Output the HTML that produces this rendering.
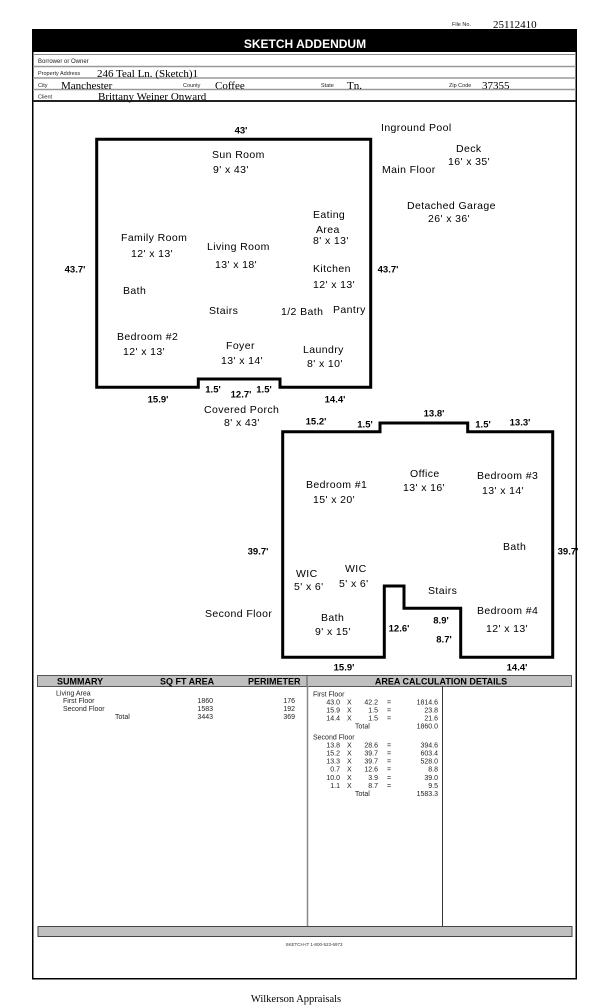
<!DOCTYPE html>
<html>
<head>
<meta charset="utf-8">
<style>
html,body{margin:0;padding:0;background:#fff;}
svg{display:block;}
.r{font-family:"Liberation Sans",Arial,sans-serif;font-size:10.5px;letter-spacing:0.4px;fill:#000;}
.d{font-family:"Liberation Sans",Arial,sans-serif;font-size:9.5px;font-weight:bold;fill:#000;text-anchor:middle;}
.s{font-family:"Liberation Sans",Arial,sans-serif;font-size:6px;fill:#222;}
.t{font-family:"Liberation Serif","Times New Roman",serif;font-size:11px;fill:#000;}
.sm{font-family:"Liberation Sans",Arial,sans-serif;font-size:7px;fill:#222;}
.smr{font-family:"Liberation Sans",Arial,sans-serif;font-size:7px;fill:#222;text-anchor:end;}
.hb{font-family:"Liberation Sans",Arial,sans-serif;font-size:9px;font-weight:bold;fill:#000;}
</style>
</head>
<body>
<svg width="612" height="1008" viewBox="0 0 612 1008" xmlns="http://www.w3.org/2000/svg">
<rect x="0" y="0" width="612" height="1008" fill="#fff"/>

<!-- File No -->
<text class="s" x="452" y="26" style="font-size:5.5px">File No.</text>
<text class="t" x="493" y="28">25112410</text>

<!-- outer box -->
<rect x="32.75" y="29.75" width="543.5" height="949" fill="none" stroke="#000" stroke-width="1.5"/>
<rect x="32" y="29" width="545" height="23" fill="#000"/>
<text x="305" y="48" fill="#fff" text-anchor="middle" style="font-family:'Liberation Sans',Arial,sans-serif;font-size:12px;font-weight:bold;">SKETCH ADDENDUM</text>

<!-- header rows -->
<line x1="33" y1="54.5" x2="576" y2="54.5" stroke="#888" stroke-width="1"/>
<line x1="33" y1="66.5" x2="576" y2="66.5" stroke="#999" stroke-width="1.5"/>
<line x1="33" y1="78" x2="576" y2="78" stroke="#999" stroke-width="1.5"/>
<line x1="33" y1="89.5" x2="576" y2="89.5" stroke="#999" stroke-width="1.5"/>
<line x1="33" y1="101" x2="576" y2="101" stroke="#222" stroke-width="2"/>

<text class="s" x="38" y="63">Borrower or Owner</text>
<text class="s" x="38" y="75" style="font-size:5.5px">Property Address</text>
<text class="t" x="97" y="77">246 Teal Ln. (Sketch)1</text>
<text class="s" x="38" y="87" style="font-size:5.5px">City</text>
<text class="t" x="61" y="89">Manchester</text>
<text class="s" x="183" y="87" style="font-size:5.5px">County</text>
<text class="t" x="215" y="89">Coffee</text>
<text class="s" x="321" y="87" style="font-size:5.5px">State</text>
<text class="t" x="347" y="89">Tn.</text>
<text class="s" x="449" y="87" style="font-size:5.5px">Zip Code</text>
<text class="t" x="482" y="89">37355</text>
<text class="s" x="38" y="98.5" style="font-size:5.5px">Client</text>
<text class="t" x="98" y="100">Brittany Weiner  Onward</text>

<!-- First floor -->
<path d="M96.7,139.3 H370.7 V387.3 H280 V379 H198.3 V387.3 H96.7 Z" fill="none" stroke="#000" stroke-width="3" stroke-linejoin="miter"/>

<!-- Second floor -->
<path d="M282.7,431.7 H380 V423 H467.7 V431.7 H552.7 V657.3 H460.7 V608.3 H404 V586 H384.3 V657.3 H282.7 Z" fill="none" stroke="#000" stroke-width="3" stroke-linejoin="miter"/>

<!-- room labels -->
<text class="r" x="212" y="158">Sun Room</text>
<text class="r" x="213" y="173">9' x 43'</text>
<text class="r" x="121" y="241">Family Room</text>
<text class="r" x="131" y="257">12' x 13'</text>
<text class="r" x="207" y="250">Living Room</text>
<text class="r" x="215" y="268">13' x 18'</text>
<text class="r" x="313" y="218">Eating</text>
<text class="r" x="316" y="233">Area</text>
<text class="r" x="313" y="244">8' x 13'</text>
<text class="r" x="313" y="272">Kitchen</text>
<text class="r" x="313" y="288">12' x 13'</text>
<text class="r" x="123" y="294">Bath</text>
<text class="r" x="209" y="314">Stairs</text>
<text class="r" x="281" y="315">1/2 Bath</text>
<text class="r" x="333" y="313">Pantry</text>
<text class="r" x="117" y="340">Bedroom #2</text>
<text class="r" x="123" y="355">12' x 13'</text>
<text class="r" x="226" y="349">Foyer</text>
<text class="r" x="221" y="364">13' x 14'</text>
<text class="r" x="303" y="353">Laundry</text>
<text class="r" x="307" y="367">8' x 10'</text>
<text class="r" x="204" y="413">Covered Porch</text>
<text class="r" x="224" y="426">8' x 43'</text>
<text class="r" x="381" y="131">Inground Pool</text>
<text class="r" x="456" y="152">Deck</text>
<text class="r" x="448" y="165">16' x 35'</text>
<text class="r" x="382" y="173">Main Floor</text>
<text class="r" x="407" y="209">Detached Garage</text>
<text class="r" x="428" y="222">26' x 36'</text>

<text class="r" x="306" y="488">Bedroom #1</text>
<text class="r" x="313" y="503">15' x 20'</text>
<text class="r" x="296" y="577">WIC</text>
<text class="r" x="294" y="590">5' x 6'</text>
<text class="r" x="345" y="572">WIC</text>
<text class="r" x="339" y="587">5' x 6'</text>
<text class="r" x="205" y="617">Second Floor</text>
<text class="r" x="321" y="621">Bath</text>
<text class="r" x="315" y="635">9' x 15'</text>
<text class="r" x="410" y="477">Office</text>
<text class="r" x="403" y="491">13' x 16'</text>
<text class="r" x="477" y="479">Bedroom #3</text>
<text class="r" x="482" y="494">13' x 14'</text>
<text class="r" x="503" y="550">Bath</text>
<text class="r" x="428" y="594">Stairs</text>
<text class="r" x="477" y="614">Bedroom #4</text>
<text class="r" x="486" y="632">12' x 13'</text>

<!-- dimension labels -->
<text class="d" x="241" y="133.5">43'</text>
<text class="d" x="75" y="272.5">43.7'</text>
<text class="d" x="388" y="272.5">43.7'</text>
<text class="d" x="158" y="402.5">15.9'</text>
<text class="d" x="213" y="392.5">1.5'</text>
<text class="d" x="241" y="397.5">12.7'</text>
<text class="d" x="264" y="392.5">1.5'</text>
<text class="d" x="335" y="402.5">14.4'</text>
<text class="d" x="316" y="424.5">15.2'</text>
<text class="d" x="365" y="427.5">1.5'</text>
<text class="d" x="434" y="416.5">13.8'</text>
<text class="d" x="483" y="427.5">1.5'</text>
<text class="d" x="520" y="425.5">13.3'</text>
<text class="d" x="258" y="554.5">39.7'</text>
<text class="d" x="568" y="554.5">39.7'</text>
<text class="d" x="399" y="631.5">12.6'</text>
<text class="d" x="441" y="623.5">8.9'</text>
<text class="d" x="444" y="642.5">8.7'</text>
<text class="d" x="344" y="670.5">15.9'</text>
<text class="d" x="517" y="670.5">14.4'</text>

<!-- summary header -->
<rect x="37.5" y="675.5" width="534" height="11" fill="#c0c0c0" stroke="#555" stroke-width="1"/>
<line x1="307" y1="676" x2="307" y2="686" stroke="#555" stroke-width="1"/>
<text class="hb" x="57" y="684.5">SUMMARY</text>
<text class="hb" x="160" y="684.5">SQ FT AREA</text>
<text class="hb" x="248" y="684.5">PERIMETER</text>
<text class="hb" x="441" y="684.5" text-anchor="middle">AREA CALCULATION DETAILS</text>

<line x1="307.5" y1="686" x2="307.5" y2="926" stroke="#888" stroke-width="1.5"/>
<line x1="442.5" y1="686" x2="442.5" y2="926" stroke="#333" stroke-width="1"/>

<!-- summary body -->
<text class="sm" x="56" y="695.5">Living Area</text>
<text class="sm" x="63" y="703">First Floor</text>
<text class="smr" x="213" y="703">1860</text>
<text class="smr" x="295" y="703">176</text>
<text class="sm" x="63" y="711">Second Floor</text>
<text class="smr" x="213" y="711">1583</text>
<text class="smr" x="295" y="711">192</text>
<text class="sm" x="115" y="719">Total</text>
<text class="smr" x="213" y="719">3443</text>
<text class="smr" x="295" y="719">369</text>

<!-- area calc -->
<text class="sm" x="313" y="696.5">First Floor</text>
<g>
<text class="smr" x="340" y="704.5">43.0</text><text class="sm" x="347" y="704.5">X</text><text class="smr" x="378" y="704.5">42.2</text><text class="sm" x="387" y="704.5">=</text><text class="smr" x="438" y="704.5">1814.6</text>
<text class="smr" x="340" y="712.5">15.9</text><text class="sm" x="347" y="712.5">X</text><text class="smr" x="378" y="712.5">1.5</text><text class="sm" x="387" y="712.5">=</text><text class="smr" x="438" y="712.5">23.8</text>
<text class="smr" x="340" y="720.5">14.4</text><text class="sm" x="347" y="720.5">X</text><text class="smr" x="378" y="720.5">1.5</text><text class="sm" x="387" y="720.5">=</text><text class="smr" x="438" y="720.5">21.6</text>
<text class="sm" x="355" y="728.5">Total</text><text class="smr" x="438" y="728.5">1860.0</text>
</g>
<text class="sm" x="313" y="739.5">Second Floor</text>
<g>
<text class="smr" x="340" y="747.5">13.8</text><text class="sm" x="347" y="747.5">X</text><text class="smr" x="378" y="747.5">28.6</text><text class="sm" x="387" y="747.5">=</text><text class="smr" x="438" y="747.5">394.6</text>
<text class="smr" x="340" y="755.5">15.2</text><text class="sm" x="347" y="755.5">X</text><text class="smr" x="378" y="755.5">39.7</text><text class="sm" x="387" y="755.5">=</text><text class="smr" x="438" y="755.5">603.4</text>
<text class="smr" x="340" y="763.5">13.3</text><text class="sm" x="347" y="763.5">X</text><text class="smr" x="378" y="763.5">39.7</text><text class="sm" x="387" y="763.5">=</text><text class="smr" x="438" y="763.5">528.0</text>
<text class="smr" x="340" y="771.5">0.7</text><text class="sm" x="347" y="771.5">X</text><text class="smr" x="378" y="771.5">12.6</text><text class="sm" x="387" y="771.5">=</text><text class="smr" x="438" y="771.5">8.8</text>
<text class="smr" x="340" y="780">10.0</text><text class="sm" x="347" y="780">X</text><text class="smr" x="378" y="780">3.9</text><text class="sm" x="387" y="780">=</text><text class="smr" x="438" y="780">39.0</text>
<text class="smr" x="340" y="788">1.1</text><text class="sm" x="347" y="788">X</text><text class="smr" x="378" y="788">8.7</text><text class="sm" x="387" y="788">=</text><text class="smr" x="438" y="788">9.5</text>
<text class="sm" x="355" y="796">Total</text><text class="smr" x="438" y="796">1583.3</text>
</g>

<!-- bottom bar -->
<rect x="38" y="926.5" width="534" height="10" fill="#c0c0c0" stroke="#444" stroke-width="1"/>
<text x="314" y="946" text-anchor="middle" style="font-family:'Liberation Sans',Arial,sans-serif;font-size:4.5px;fill:#333;">SKETCH-IT 1-800-523-6973</text>

<text x="296" y="1002" text-anchor="middle" style="font-family:'Liberation Serif','Times New Roman',serif;font-size:10.5px;fill:#000;">Wilkerson Appraisals</text>
</svg>
</body>
</html>
